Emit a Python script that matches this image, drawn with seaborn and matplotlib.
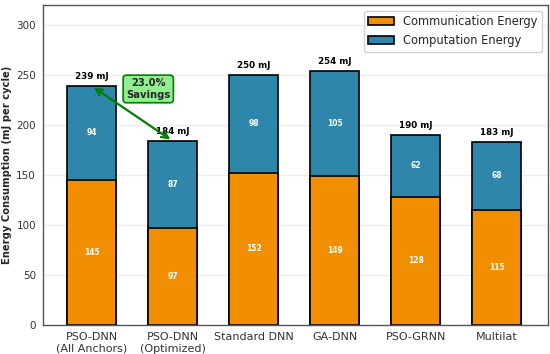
import matplotlib
matplotlib.use("Agg")
import matplotlib.pyplot as plt
import seaborn as sns
import pandas as pd

methods = ["PSO-DNN\n(All Anchors)", "PSO-DNN\n(Optimized)", "Standard DNN", "GA-DNN", "PSO-GRNN", "Multilat"]
communication = [145, 97, 152, 149, 128, 115]
computation = [94, 87, 98, 105, 62, 68]
totals = [239, 184, 250, 254, 190, 183]

sns.set_theme(style="whitegrid")
plt.rcParams['font.family'] = ['DejaVu Sans']

df = pd.DataFrame({"method": methods, "comm": communication, "comp": computation, "total": totals})

fig = plt.figure(figsize=(5.5, 3.54), dpi=100)
ax = fig.add_axes([0.078, 0.082, 0.918, 0.904])

c_comm = "#F18F01"
c_comp = "#2E86AB"

sns.barplot(data=df, x="method", y="total", color=c_comp, width=0.6, edgecolor="black",
            linewidth=1.2, saturation=1, ax=ax, label="Computation Energy")
sns.barplot(data=df, x="method", y="comm", color=c_comm, width=0.6, edgecolor="black",
            linewidth=1.2, saturation=1, ax=ax, label="Communication Energy")

for i, (cm, cp, t) in enumerate(zip(communication, computation, totals)):
    ax.text(i, cm / 2, f"{cm}", ha="center", va="center", color="white", fontsize=5.5, fontweight="bold")
    ax.text(i, cm + cp / 2, f"{cp}", ha="center", va="center", color="white", fontsize=5.5, fontweight="bold")
    ax.text(i, t + 5, f"{t} mJ", ha="center", va="bottom", color="black", fontsize=6.3, fontweight="bold")

ax.annotate("", xy=(0, totals[0]), xytext=(1, totals[1]),
            arrowprops=dict(arrowstyle="<->", color="green", lw=1.6))
ax.text(0.7, 236, "23.0%\nSavings", ha="center", va="center", fontsize=7.2, fontweight="bold",
        bbox=dict(boxstyle="round,pad=0.3", facecolor="lightgreen", edgecolor="green", lw=1.2))

ax.set_ylim(0, 320)
ax.set_xlim(-0.6, 5.63)
ax.set_xlabel("")
ax.set_ylabel("Energy Consumption (mJ per cycle)", fontsize=7.2, fontweight="bold", labelpad=3)
ax.tick_params(axis="both", labelsize=7.5, length=3, pad=2, colors="#333333")
ax.tick_params(axis="x", labelsize=8)
ax.grid(axis="y", alpha=0.35)
ax.grid(axis="x", visible=False)
for s in ax.spines.values():
    s.set_visible(True)
    s.set_color("#555555")
    s.set_linewidth(1.0)

h, l = ax.get_legend_handles_labels()
order = [l.index("Communication Energy"), l.index("Computation Energy")]
ax.legend([h[k] for k in order], [l[k] for k in order], loc="upper right", fontsize=8.3,
          frameon=True, framealpha=0.9, borderpad=0.4, handlelength=2.2)

fig.savefig("out.png", dpi=100)
